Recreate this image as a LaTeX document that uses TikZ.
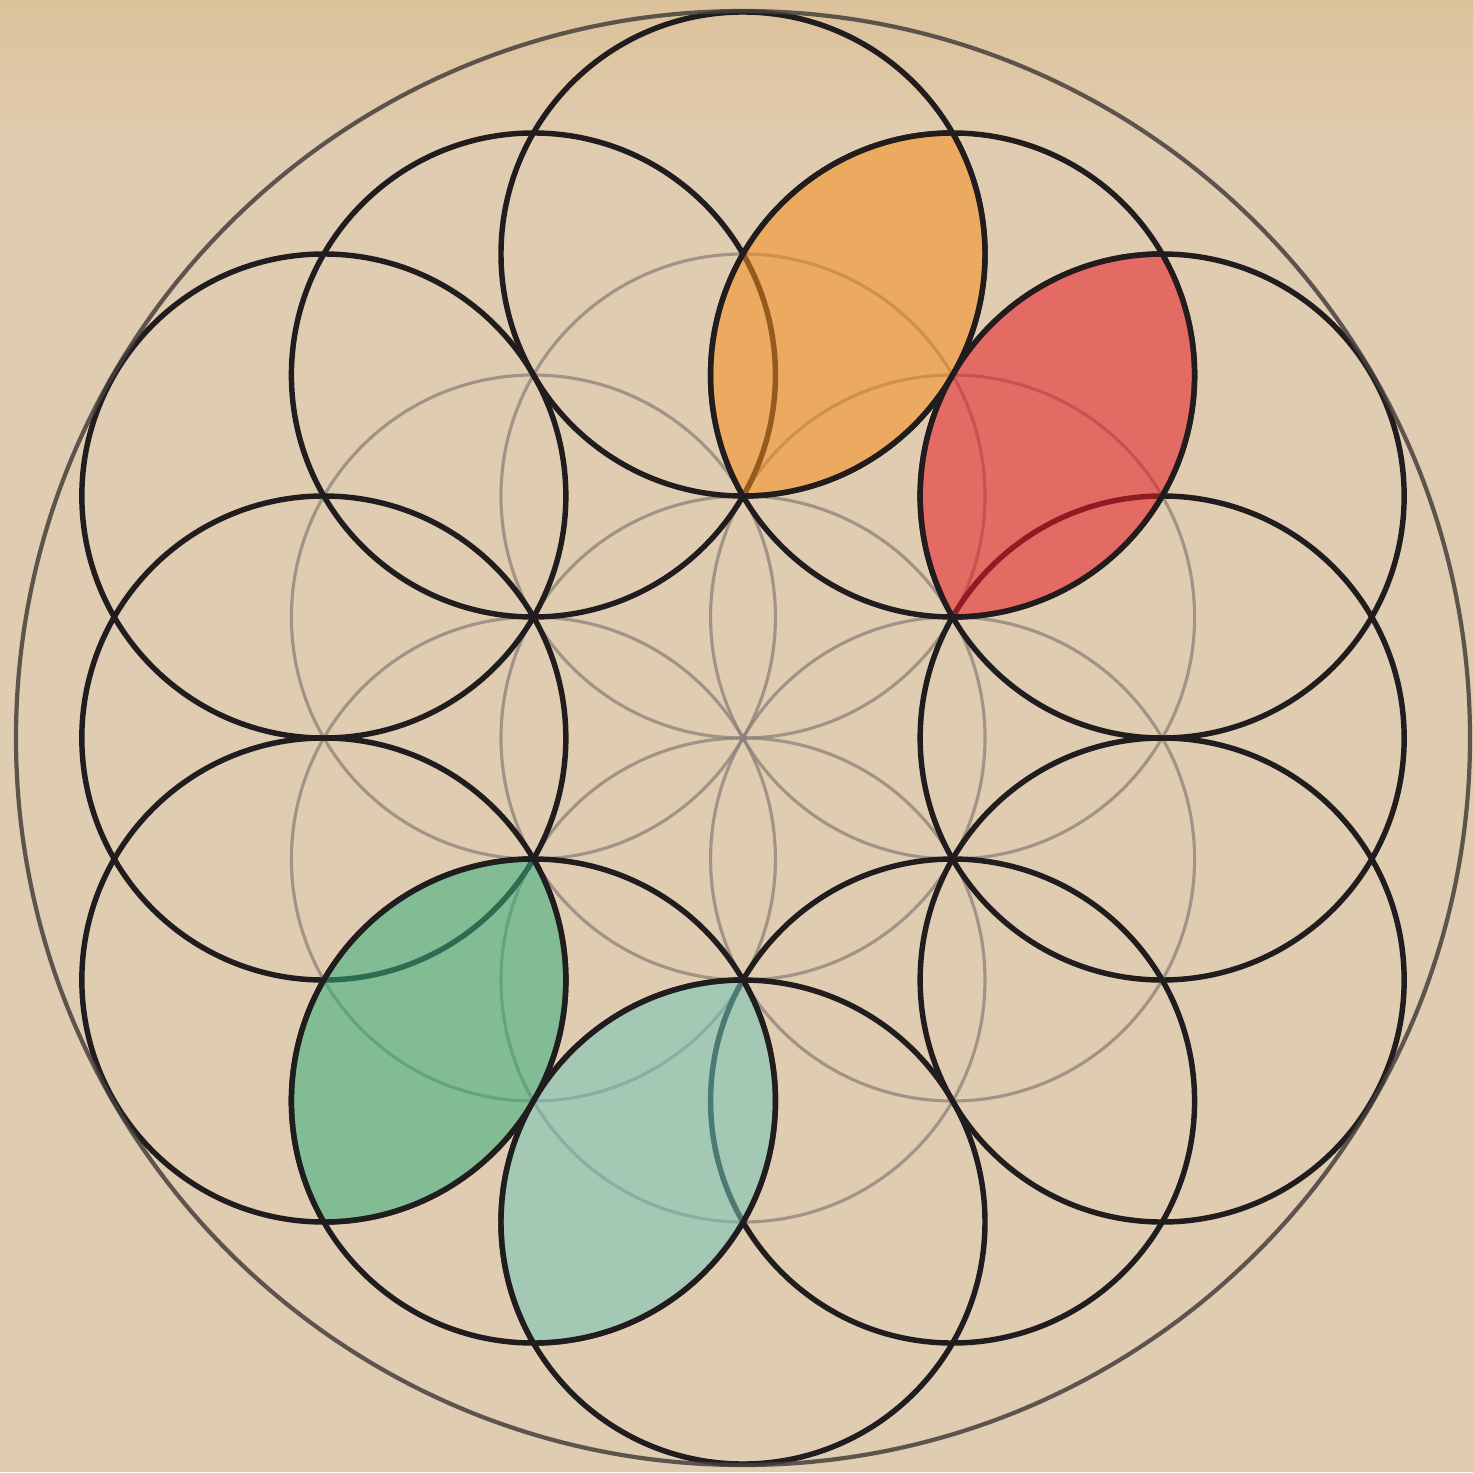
\documentclass[tikz,border=0pt]{standalone}
\begin{document}
\begin{tikzpicture}[
  greyline/.style={draw=greyc, line width=0.9pt, draw opacity=0.75},
  blackline/.style={draw=blackc, line width=1.55pt},
  outerline/.style={draw=outerc, line width=1.2pt, draw opacity=0.85},
  lensfill/.style={fill=#1, fill opacity=0.55}
]
\definecolor{bgc}{RGB}{224,204,176}
\definecolor{bgtop}{RGB}{220,194,154}
\definecolor{greyc}{RGB}{140,130,122}
\definecolor{blackc}{RGB}{33,28,30}
\definecolor{outerc}{RGB}{70,64,60}
\definecolor{orangec}{RGB}{246,142,31}
\definecolor{redc}{RGB}{233,29,38}
\definecolor{greenc}{RGB}{53,175,125}
\definecolor{tealc}{RGB}{113,199,185}
\def\R{2.42}
\def\S{4.1916}
\def\D{4.84}
% background
\useasboundingbox (-7.43,-7.34) rectangle (7.30,7.38);
\fill[bgc] (-7.43,-7.34) rectangle (7.30,7.38);
\shade[top color=bgtop, bottom color=bgc] (-7.43,5.9) rectangle (7.30,7.38);
% lattice centres
\coordinate (O) at (0,0);
\foreach \k in {0,...,5}{
  \coordinate (f\k) at (30+60*\k:\R);
  \coordinate (s\k) at (60*\k:\S);
  \coordinate (t\k) at (30+60*\k:\D);
}
% seed of life (grey)
\draw[greyline] (O) circle (\R);
\foreach \k in {0,...,5}{ \draw[greyline] (f\k) circle (\R); }
\fill[greyc, opacity=0.6] (O) circle (0.04);
% outer ring of twelve circles
\foreach \k in {0,...,5}{
  \draw[blackline] (s\k) circle (\R);
  \draw[blackline] (t\k) circle (\R);
}
% outer circle
\draw[outerline] (O) circle (7.27);
% lenses
% orange: t1 (90) & s1 (60)
\begin{scope}\clip (t1) circle (\R); \fill[lensfill=orangec] (s1) circle (\R);\end{scope}
% red: s1 (60) & t0 (30)
\begin{scope}\clip (s1) circle (\R); \fill[lensfill=redc] (t0) circle (\R);\end{scope}
% green: t3 (210) & s4 (240)
\begin{scope}\clip (t3) circle (\R); \fill[lensfill=greenc] (s4) circle (\R);\end{scope}
% teal: s4 (240) & t4 (270)
\begin{scope}\clip (s4) circle (\R); \fill[lensfill=tealc] (t4) circle (\R);\end{scope}
% lens boundaries redrawn on top
\begin{scope}\clip (t1) circle (\R); \draw[blackline] (s1) circle (\R);\end{scope}
\begin{scope}\clip (s1) circle (\R); \draw[blackline] (t1) circle (\R);\end{scope}
\begin{scope}\clip (s1) circle (\R); \draw[blackline] (t0) circle (\R);\end{scope}
\begin{scope}\clip (t0) circle (\R); \draw[blackline] (s1) circle (\R);\end{scope}
\begin{scope}\clip (t3) circle (\R); \draw[blackline] (s4) circle (\R);\end{scope}
\begin{scope}\clip (s4) circle (\R); \draw[blackline] (t3) circle (\R);\end{scope}
\begin{scope}\clip (s4) circle (\R); \draw[blackline] (t4) circle (\R);\end{scope}
\begin{scope}\clip (t4) circle (\R); \draw[blackline] (s4) circle (\R);\end{scope}
\end{tikzpicture}
\end{document}
